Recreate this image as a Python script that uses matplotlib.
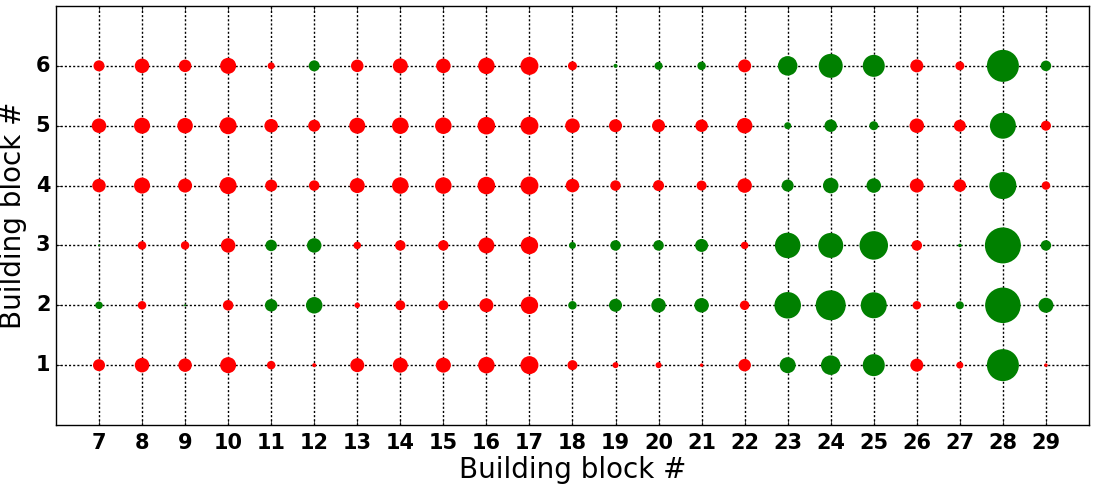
#python3

#import libraries
import numpy as np
import matplotlib
matplotlib.use('Agg')
import matplotlib.pyplot as plt

plt.style.use('classic')

#building blocks on the x axis
blocks = list(range(7, 30))
rows = [1, 2, 3, 4, 5, 6]

#signed marker values (positive = red, negative = green)
row1 = [12, 14.5, 13.5, 16, 8.5, 4, 14, 15, 15, 16.5, 18, 10, 6, 6, 3.5, 12.5, -16, -19.5, -22, 13, 7, -32, 3.5]
row2 = [-7.5, 8.5, -2, 10.5, -12.5, -16.5, 5.5, 10, 10, 14, 17.5, -8.5, -13, -14.5, -14.5, 9.5, -26.5, -30, -26, 8.5, -8, -35.5, -15]
row3 = [-2, 8.5, 8.5, 14.5, -11.5, -14.5, 7.5, 10.5, 10.5, 16, 17.5, -7, -10.5, -10.5, -13, 7.5, -25.5, -25, -28.5, 10.5, -3.5, -36, -10.5]
row4 = [13.5, 16, 14, 17, 12, 10.5, 15, 16.5, 16.5, 17.5, 18, 13.5, 10.5, 11, 10, 14.5, -12, -15.5, -14.5, 14, 12.5, -27, 8.5]
row5 = [14.5, 16, 15.5, 17, 13.5, 12, 16, 16.5, 16.5, 17.5, 18, 14.5, 13, 13, 12.5, 15.5, -7, -12.5, -9, 14.5, 12, -26, 10]
row6 = [11, 14.5, 12.5, 16, 7, -11, 12.5, 15, 14.5, 16.5, 18, 9, -4, -8, -8.5, 13, -19.5, -24, -22, 13, 9, -32, -10.5]
values = [row1, row2, row3, row4, row5, row6]

fig = plt.figure(figsize=(10.95, 4.87), dpi=100)
ax = fig.add_axes([0.0511, 0.1273, 0.9434, 0.8604])

for r, vals in zip(rows, values):
    vals = np.array(vals)
    colors = np.where(vals > 0, '#ff0000', '#008000')
    sizes = (np.abs(vals) * 0.72) ** 2
    ax.scatter(blocks, [r] * len(blocks), s=sizes, c=list(colors), edgecolors='none', zorder=3)

ax.set_xlim(6, 30)
ax.set_ylim(0, 7)
ax.set_xticks(blocks)
ax.set_yticks(rows)
ax.tick_params(labelsize=15)
ax.tick_params(axis='x', pad=6)
ax.tick_params(axis='y', pad=4)
for lab in ax.get_xticklabels() + ax.get_yticklabels():
    lab.set_fontweight('bold')
ax.grid(True, linestyle=(0, (1.5, 1.5)), color='black', linewidth=1)
ax.set_axisbelow(True)
ax.set_xlabel('Building block #', fontsize=20, labelpad=2)
ax.set_ylabel('Building block #', fontsize=20, labelpad=6)

plt.savefig('out.png', dpi=100)
